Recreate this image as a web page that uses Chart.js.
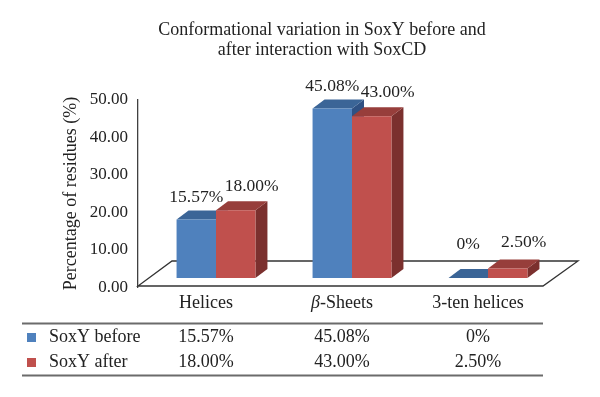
<!DOCTYPE html>
<html>
<head>
<meta charset="utf-8">
<script src="https://cdn.jsdelivr.net/npm/chart.js@4/dist/chart.umd.min.js"></script>
<style>
  html, body { margin: 0; padding: 0; background: #fff; }
  #wrap { width: 600px; height: 397px; }
</style>
</head>
<body>
<div id="wrap"><canvas id="chart"></canvas></div>
<script>
const categories = ['Helices', 'β-Sheets', '3-ten helices'];
const seriesNames = ['SoxY before', 'SoxY after'];
const soxyBefore = [15.57, 45.08, 0];
const soxyAfter = [18.00, 43.00, 2.50];
const yTicks = [0, 10, 20, 30, 40, 50];

const FONT = '"Liberation Serif", "DejaVu Serif", serif';
const TEXT = '#222';
// 3d look: depth of each bar, and how far the bars sit back from the axis plane
const DX = 12, DY = -9;
const SHIFT_X = 10, SHIFT_Y = -9.5;
const faces = [
    { front: '#4F81BD', top: '#3B6597', side: '#2F5183' },
    { front: '#C0504D', top: '#973E3B', side: '#7B302E' }
];
const labelDx = [0, 16];
const labelDy = [22, 24];

function fmt(v) {
    return v === 0 ? '0%' : v.toFixed(2) + '%';
}

function poly(ctx, pts, color) {
    ctx.fillStyle = color;
    ctx.beginPath();
    ctx.moveTo(pts[0][0], pts[0][1]);
    for (let k = 1; k < pts.length; k++) ctx.lineTo(pts[k][0], pts[k][1]);
    ctx.closePath();
    ctx.fill();
}

const bars3d = {
    id: 'bars3d',
    beforeDatasetsDraw(chart) {
        const { ctx, chartArea: a } = chart;
        // floor
        ctx.save();
        ctx.beginPath();
        ctx.moveTo(a.left, a.bottom - 1.5);
        ctx.lineTo(a.right - 3, a.bottom - 1.5);
        ctx.lineTo(a.right + 32, a.bottom - 26.5);
        ctx.lineTo(a.left + 34, a.bottom - 26.5);
        ctx.closePath();
        ctx.fillStyle = '#fff';
        ctx.fill();
        ctx.strokeStyle = '#333';
        ctx.lineWidth = 1.3;
        ctx.stroke();
        ctx.restore();

        // top and side faces, front faces are drawn by chart.js afterwards
        ctx.save();
        ctx.translate(SHIFT_X, SHIFT_Y);
        const metas = chart.data.datasets.map((d, i) => chart.getDatasetMeta(i));
        categories.forEach((c, j) => {
            metas.forEach((m, i) => {
                const { x, y, base, width } = m.data[j].getProps(['x', 'y', 'base', 'width'], true);
                const l = x - width / 2, r = x + width / 2;
                poly(ctx, [[r, y], [r + DX, y + DY], [r + DX, base + DY], [r, base]], faces[i].side);
                poly(ctx, [[l, y], [r, y], [r + DX, y + DY], [l + DX, y + DY]], faces[i].top);
            });
        });
    },
    afterDatasetsDraw(chart) {
        const { ctx, chartArea: a } = chart;
        ctx.restore();

        const values = [soxyBefore, soxyAfter];
        ctx.save();
        ctx.font = '17.5px ' + FONT;
        ctx.fillStyle = TEXT;
        ctx.textAlign = 'center';
        ctx.textBaseline = 'middle';
        chart.data.datasets.forEach((d, i) => {
            chart.getDatasetMeta(i).data.forEach((bar, j) => {
                const top = bar.y + SHIFT_Y, base = bar.base + SHIFT_Y;
                ctx.fillText(fmt(values[i][j]), bar.x + SHIFT_X + labelDx[i], Math.min(top, base - 12) - labelDy[i]);
            });
        });

        // data table under the chart
        const xs = chart.scales.x;
        const tl = 22, tr = a.right - 3;
        const headY = a.bottom + 16;
        const rowY = [a.bottom + 50, a.bottom + 75];
        ctx.textAlign = 'left';
        categories.forEach((c, j) => {
            const cx = xs.getPixelForValue(j);
            if (c.startsWith('β')) {
                ctx.font = 'italic 18px ' + FONT;
                const w1 = ctx.measureText('β').width;
                ctx.font = '18px ' + FONT;
                const w2 = ctx.measureText(c.slice(1)).width;
                const x0 = cx - (w1 + w2) / 2;
                ctx.font = 'italic 18px ' + FONT;
                ctx.fillText('β', x0, headY);
                ctx.font = '18px ' + FONT;
                ctx.fillText(c.slice(1), x0 + w1, headY);
            } else {
                ctx.font = '18px ' + FONT;
                ctx.textAlign = 'center';
                ctx.fillText(c, cx, headY);
                ctx.textAlign = 'left';
            }
        });

        ctx.strokeStyle = '#6b6b6b';
        ctx.lineWidth = 2;
        [a.bottom + 36, a.bottom + 88].forEach(ly => {
            ctx.beginPath();
            ctx.moveTo(tl, ly);
            ctx.lineTo(tr, ly);
            ctx.stroke();
        });

        ctx.font = '18px ' + FONT;
        seriesNames.forEach((name, i) => {
            ctx.fillStyle = faces[i].front;
            ctx.fillRect(27, rowY[i] - 4.5, 9, 9);
            ctx.fillStyle = TEXT;
            ctx.textAlign = 'left';
            ctx.fillText(name, 49, rowY[i]);
            ctx.textAlign = 'center';
            values[i].forEach((v, j) => ctx.fillText(fmt(v), xs.getPixelForValue(j), rowY[i]));
        });
        ctx.restore();
    }
};

new Chart(document.getElementById('chart'), {
    type: 'bar',
    data: {
        labels: categories,
        datasets: [
            { label: seriesNames[0], data: soxyBefore, backgroundColor: faces[0].front },
            { label: seriesNames[1], data: soxyAfter, backgroundColor: faces[1].front }
        ]
    },
    options: {
        responsive: true,
        maintainAspectRatio: false,
        animation: false,
        devicePixelRatio: 1,
        layout: { padding: { left: 44, right: 0, top: 0, bottom: 109.5 } },
        datasets: {
            bar: { categoryPercentage: 0.58, barPercentage: 1, borderWidth: 0, clip: false }
        },
        scales: {
            x: { display: false },
            y: {
                min: yTicks[0],
                max: yTicks[yTicks.length - 1],
                afterFit: (scale) => { scale.width = 94; },
                afterBuildTicks: (scale) => { scale.ticks = yTicks.map(v => ({ value: v })); },
                grid: { display: false, drawTicks: false },
                border: { display: true, color: '#404040', width: 1.3 },
                ticks: {
                    padding: 10,
                    color: TEXT,
                    font: { family: FONT, size: 17 },
                    callback: (v) => Number(v).toFixed(2)
                },
                title: {
                    display: true,
                    text: 'Percentage of residues (%)',
                    color: TEXT,
                    font: { family: FONT, size: 18 },
                    padding: { top: 16, bottom: 0 }
                }
            },
            // empty box on the right, keeps room for the 3d floor
            yr: {
                position: 'right',
                display: true,
                afterFit: (scale) => { scale.width = 54; },
                grid: { display: false, drawTicks: false },
                border: { display: false },
                ticks: { display: false }
            }
        },
        plugins: {
            legend: { display: false },
            tooltip: { enabled: false },
            title: {
                display: true,
                text: ['Conformational variation in SoxY before and', 'after interaction with SoxCD'],
                color: TEXT,
                font: { family: FONT, size: 18, weight: 'normal', lineHeight: 1.12 },
                padding: { top: 20, bottom: 39.2 }
            }
        }
    },
    plugins: [bars3d]
});
</script>
</body>
</html>
